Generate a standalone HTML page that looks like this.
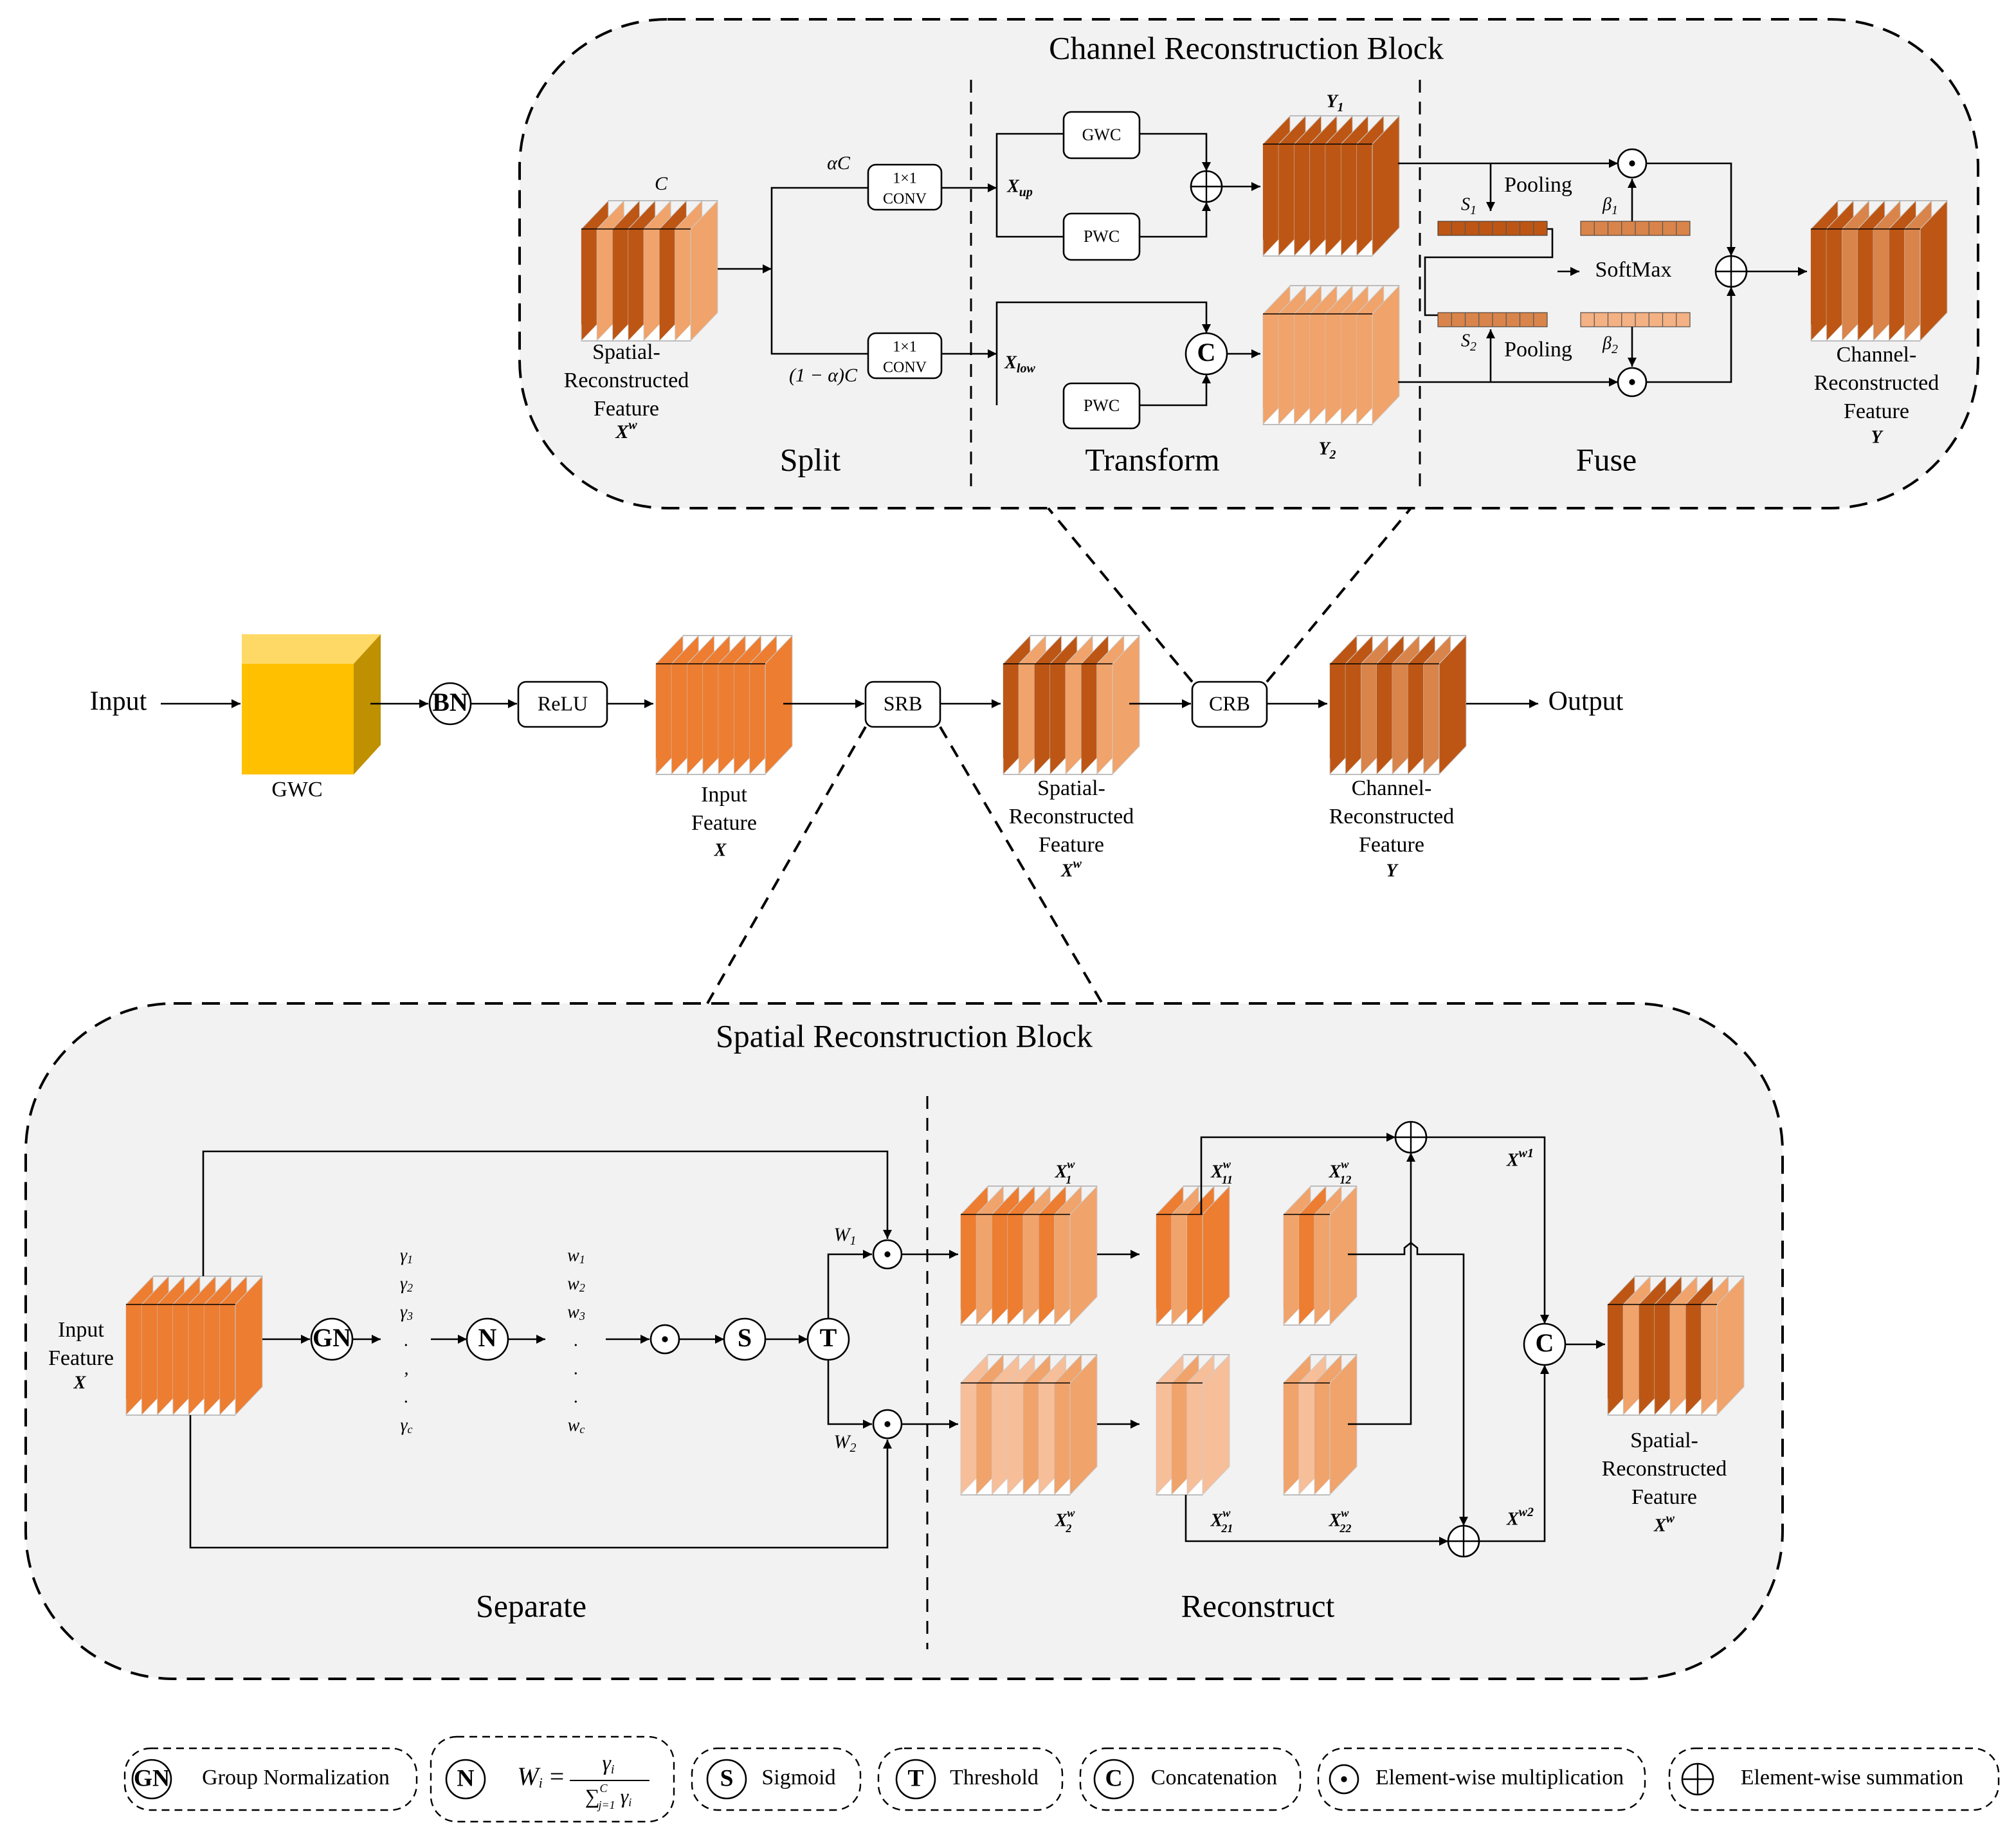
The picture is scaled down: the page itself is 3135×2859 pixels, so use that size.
<!DOCTYPE html>
<html><head><meta charset="utf-8"><style>
html,body{margin:0;padding:0;background:#fff}
svg{display:block}
text{font-family:"Liberation Serif",serif;fill:#000}
</style></head><body>
<svg id="s" width="3135" height="2859" viewBox="0 0 1567.5 1429.5" xmlns="http://www.w3.org/2000/svg">
<defs>
<marker id="a" viewBox="0 0 10 10" refX="10" refY="5" markerWidth="7" markerHeight="7" markerUnits="userSpaceOnUse" orient="auto"><path d="M0,0L10,5L0,10z" fill="#000"/></marker>
</defs>
<g fill="#f2f2f2" stroke="#000" stroke-width="2" stroke-dasharray="14,8">
<rect x="404" y="15" width="1134" height="380" rx="115"/>
<rect x="20" y="780" width="1366" height="525" rx="115"/>
</g>
<g stroke="#000" stroke-width="1.5" stroke-dasharray="10,7" fill="none">
<line x1="755" y1="62" x2="755" y2="382"/><line x1="1104" y1="62" x2="1104" y2="382"/>
<line x1="721" y1="852" x2="721" y2="1282"/>
<line x1="927" y1="530" x2="815" y2="395" stroke-width="2"/><line x1="985" y1="530" x2="1097" y2="395" stroke-width="2"/>
<line x1="673" y1="565" x2="550" y2="780" stroke-width="2"/><line x1="731" y1="565" x2="857" y2="780" stroke-width="2"/>
</g>
<g id="stacks"></g>
<g id="lines" stroke="#000" stroke-width="1.3" fill="none"></g>
<g id="shapes"></g>
<g id="texts" font-size="18"></g>
</svg>
<script>
const NS="http://www.w3.org/2000/svg";
function el(p,t,a,txt){const e=document.createElementNS(NS,t);for(const k in a)e.setAttribute(k,a[k]);if(txt!==undefined)e.innerHTML=txt;document.getElementById(p).appendChild(e);return e;}
const D="#BD5614",L="#F0A36B",O="#ED7D31",P="#F7BE9A",M="#D9844A";
function stack(x,y,h,cols,dx,dy,sw){
 dx=dx||21;dy=dy||22;const n=cols.length;sw=sw||(85/(n-1));
 for(let i=0;i<n;i++){const xi=x+i*sw;
  el("stacks","polygon",{points:`${xi},${y+h} ${xi},${y} ${xi+dx},${y-dy} ${xi+dx},${y+h-dy}`,fill:cols[i],stroke:"#ccc","stroke-width":0.5});
  // white triangle
  el("stacks","polygon",{points:`${xi},${y+h} ${xi+Math.min(sw,dx)},${y+h} ${xi+Math.min(sw,dx)},${y+h-dy*Math.min(sw,dx)/dx}`,fill:"#fff",opacity:i<n-1?1:0});
  if(i<n-1)el("stacks","rect",{x:xi,y:y,width:sw,height:h-dy*sw/dx,fill:cols[i]});
 }
 const xl=x+(n-1)*sw;
 el("stacks","line",{x1:x,y1:y,x2:xl,y2:y,stroke:"#000","stroke-width":0.8});
 el("stacks","line",{x1:x+dx,y1:y-dy,x2:xl+dx,y2:y-dy,stroke:"#aaa","stroke-width":0.8});
 el("stacks","line",{x1:x,y1:y+h,x2:xl,y2:y+h,stroke:"#aaa","stroke-width":0.8});
}
function ln(pts,arrow){el("lines","polyline",Object.assign({points:pts},arrow?{"marker-end":"url(#a)"}:{}));}
function box(x,y,w,h,t,fs,t2){el("shapes","rect",{x:x,y:y,width:w,height:h,rx:6,fill:"#fff",stroke:"#000","stroke-width":1.3});
 if(t2){tx(x+w/2,y+h/2-6,t,fs);tx(x+w/2,y+h/2+10,t2,fs);}else tx(x+w/2,y+h/2+1,t,fs);}
function tx(x,y,t,fs,extra){const a={x:x,y:y,"text-anchor":"middle","dominant-baseline":"middle","font-size":fs||18};Object.assign(a,extra||{});return el("texts","text",a,t);}
function circ(x,y,r,kind){el("shapes","circle",{cx:x,cy:y,r:r,fill:"#fff",stroke:"#000","stroke-width":1.3});
 if(kind=="+"){el("shapes","line",{x1:x-r,y1:y,x2:x+r,y2:y,stroke:"#000","stroke-width":1.2});el("shapes","line",{x1:x,y1:y-r,x2:x,y2:y+r,stroke:"#000","stroke-width":1.2});}
 else if(kind=="."){el("shapes","circle",{cx:x,cy:y,r:2.3,fill:"#000"});}
 else tx(x,y+1,kind,r*1.25,{"font-weight":"bold"});}
function it(x,y,t,fs,b){return tx(x,y,t,fs||15,{"font-style":"italic","font-weight":b?"bold":"normal"});}

// ===== CRB =====
tx(969,40,"Channel Reconstruction Block",25);
tx(630,360,"Split",25);tx(896,360,"Transform",25);tx(1249,360,"Fuse",25);
stack(452,178,87,[D,L,D,D,L,D,L,L]);
it(514,144,"C",15);
tx(487,275,"Spatial-",17);tx(487,297,"Reconstructed",17);tx(487,319,"Feature",17);
it(487,337,"X<tspan font-size='10' dy='-6'>w</tspan>",15,1);
ln("558,209 600,209",1);ln("675,146 600,146 600,275 675,275");
box(675,128,57,35,"1×1",12,"CONV");box(675,259,57,35,"1×1",12,"CONV");
it(652,128,"αC",15);it(640,293,"(1 − α)C",15);
ln("732,146 775,146",1);ln("732,275 775,275",1);
it(793,146,"X<tspan font-size='10' dy='4'>up</tspan>",14,1);
it(793,283,"X<tspan font-size='10' dy='4'>low</tspan>",14,1);
ln("827,104 775,104 775,184 827,184");
ln("886,104 938,104 938,133",1);ln("886,184 938,184 938,157",1);
box(827,87,59,36,"GWC",13);box(827,166,59,36,"PWC",13);
circ(938,145,12,"+");ln("950,145 980,145",1);
stack(982,112,87,[D,D,D,D,D,D,D,D]);
it(1038,80,"Y<tspan font-size='10' dy='4'>1</tspan>",14,1);
ln("775,315 775,235 938,235 938,259",1);
ln("886,315 938,315 938,291",1);
box(827,298,59,35,"PWC",13);circ(938,275,16,"C");
ln("954,275 980,275",1);
stack(982,244,86,[L,L,L,L,L,L,L,L]);
it(1032,350,"Y<tspan font-size='10' dy='4'>2</tspan>",14,1);
// fuse
ln("1087,127 1258,127",1);ln("1087,297 1258,297",1);
ln("1159,127 1159,164",1);ln("1159,297 1159,256",1);
tx(1196,145,"Pooling",17);tx(1196,273,"Pooling",17);
for(const [bx,by,c] of [[1118,172,D],[1229,172,M],[1118,243,M],[1229,243,"#F4B183"]]){
 el("shapes","rect",{x:bx,y:by,width:85,height:11,fill:c,stroke:"#333","stroke-width":0.5});
 for(let k=1;k<8;k++)el("shapes","line",{x1:bx+k*85/8,y1:by,x2:bx+k*85/8,y2:by+11,stroke:"#555","stroke-width":0.6});}
it(1142,160,"S<tspan font-size='10' dy='4'>1</tspan>",14);it(1252,160,"β<tspan font-size='10' dy='4'>1</tspan>",14);
it(1142,266,"S<tspan font-size='10' dy='4'>2</tspan>",14);it(1252,268,"β<tspan font-size='10' dy='4'>2</tspan>",14);
ln("1203,178 1207,178 1207,200 1108,200 1108,245 1118,245");
ln("1211,211 1228,211",1);tx(1270,211,"SoftMax",17);
ln("1269,172 1269,139",1);ln("1269,254 1269,285",1);
circ(1269,127,11,".");circ(1269,297,11,".");
ln("1280,127 1346,127 1346,199",1);ln("1280,297 1346,297 1346,223",1);
circ(1346,211,12,"+");ln("1358,211 1405,211",1);
stack(1408,178,87,[D,D,M,D,M,D,M,D]);
tx(1459,277,"Channel-",17);tx(1459,299,"Reconstructed",17);tx(1459,321,"Feature",17);it(1459,341,"Y",14,1);

// ===== main row =====
tx(92,547,"Input",21);ln("125,547 187,547",1);
el("stacks","polygon",{points:"188,493 209,493 296,493 275,516 188,516",fill:"#FFD966"});
el("stacks","polygon",{points:"188,516 209,493 296,493 275,516",fill:"#FFD966"});
el("stacks","polygon",{points:"275,516 296,493 296,579 275,602",fill:"#BF9000"});
el("stacks","rect",{x:188,y:516,width:87,height:86,fill:"#FFC000"});
tx(231,615,"GWC",17);
ln("288,547 333,547",1);circ(350,547,16,"BN");ln("366,547 402,547",1);
box(403,530,69,35,"ReLU",16);ln("472,547 508,547",1);
stack(510,516,86,[O,O,O,O,O,O,O,O]);
tx(563,619,"Input",17);tx(563,641,"Feature",17);it(560,662,"X",14,1);
ln("609,547 672,547",1);box(673,530,58,35,"SRB",16);ln("731,547 778,547",1);
stack(780,516,86,[D,L,D,D,L,D,L,L]);
tx(833,614,"Spatial-",17);tx(833,636,"Reconstructed",17);tx(833,658,"Feature",17);
it(833,678,"X<tspan font-size='10' dy='-6'>w</tspan>",14,1);
ln("878,547 926,547",1);box(927,530,58,35,"CRB",16);ln("985,547 1032,547",1);
stack(1034,516,86,[D,D,M,D,M,D,M,D]);
tx(1082,614,"Channel-",17);tx(1082,636,"Reconstructed",17);tx(1082,658,"Feature",17);it(1082,678,"Y",14,1);
ln("1140,547 1196,547",1);tx(1233,547,"Output",21);

// ===== SRB =====
tx(703,808,"Spatial Reconstruction Block",25);
tx(413,1251,"Separate",25);tx(978,1251,"Reconstruct",25);
stack(98,1014,86,[O,O,O,O,O,O,O,O]);
tx(63,1035,"Input",17);tx(63,1057,"Feature",17);it(62,1076,"X",14,1);
ln("158,992 158,895 690,895 690,963",1);
ln("148,1100 148,1203 690,1203 690,1119",1);
ln("204,1041 241,1041",1);circ(258,1041,16,"GN");ln("274,1041 296,1041",1);
const g=["γ<tspan font-size='9' dy='3'>1</tspan>","γ<tspan font-size='9' dy='3'>2</tspan>","γ<tspan font-size='9' dy='3'>3</tspan>",".",",",".","γ<tspan font-size='9' dy='3'>c</tspan>"];
const w=["w<tspan font-size='9' dy='3'>1</tspan>","w<tspan font-size='9' dy='3'>2</tspan>","w<tspan font-size='9' dy='3'>3</tspan>",".",".",".","w<tspan font-size='9' dy='3'>c</tspan>"];
for(let i=0;i<7;i++){it(316,977+i*22,g[i],14);it(448,977+i*22,w[i],14);}
ln("335,1041 363,1041",1);circ(379,1041,16,"N");ln("395,1041 424,1041",1);
ln("471,1041 505,1041",1);circ(517,1041,11,".");ln("528,1041 563,1041",1);
circ(579,1041,16,"S");ln("595,1041 628,1041",1);circ(644,1041,16,"T");
ln("644,1025 644,975 678,975",1);ln("644,1057 644,1107 678,1107",1);
it(657,961,"W<tspan font-size='10' dy='4'>1</tspan>",15);it(657,1122,"W<tspan font-size='10' dy='4'>2</tspan>",15);
circ(690,975,11,".");circ(690,1107,11,".");
ln("701,975 745,975",1);ln("701,1107 745,1107",1);
stack(747,944,86,[O,L,O,O,L,O,L,L]);
stack(747,1075,87,[P,L,P,P,L,P,L,L]);
it(828,912,"X<tspan font-size='9' dy='-6'>w</tspan><tspan font-size='9' dx='-7' dy='12'>1</tspan>",14,1);
it(828,1183,"X<tspan font-size='9' dy='-6'>w</tspan><tspan font-size='9' dx='-7' dy='12'>2</tspan>",14,1);
ln("853,975 886,975",1);ln("853,1107 886,1107",1);
stack(899,944,86,[O,L,O,O],21,22,12);
stack(899,1075,87,[P,L,P,P],21,22,12);
stack(998,944,86,[L,O,L,L],21,22,12);
stack(998,1075,87,[L,P,L,L],21,22,12);
it(950,912,"X<tspan font-size='9' dy='-6'>w</tspan><tspan font-size='9' dx='-7' dy='12'>11</tspan>",14,1);
it(1042,912,"X<tspan font-size='9' dy='-6'>w</tspan><tspan font-size='9' dx='-7' dy='12'>12</tspan>",14,1);
it(950,1183,"X<tspan font-size='9' dy='-6'>w</tspan><tspan font-size='9' dx='-7' dy='12'>21</tspan>",14,1);
it(1042,1183,"X<tspan font-size='9' dy='-6'>w</tspan><tspan font-size='9' dx='-7' dy='12'>22</tspan>",14,1);
ln("934,944 934,884 1085,884",1);
ln("1109,884 1201,884 1201,1029",1);
ln("1048,975 1092,975 1092,970 1097,966 1102,970 1102,975 1138,975 1138,1186",1);
ln("1048,1107 1097,1107 1097,896",1);
ln("922,1162 922,1198 1126,1198",1);
ln("1150,1198 1201,1198 1201,1061",1);
circ(1097,884,12,"+");circ(1138,1198,12,"+");circ(1201,1045,16,"C");
it(1182,903,"X<tspan font-size='10' dy='-6'>w1</tspan>",14,1);
it(1182,1182,"X<tspan font-size='10' dy='-6'>w2</tspan>",14,1);
ln("1217,1045 1248,1045",1);
stack(1250,1014,86,[D,L,D,D,L,D,L,L]);
tx(1294,1121,"Spatial-",17);tx(1294,1143,"Reconstructed",17);tx(1294,1165,"Feature",17);
it(1294,1187,"X<tspan font-size='10' dy='-6'>w</tspan>",14,1);

// ===== legend =====
for(const [x1,x2,y1,y2] of [[97,324,1359,1407],[335,524,1350,1416],[538,669,1359,1407],[683,826,1359,1407],[840,1011,1359,1407],[1025,1279,1359,1407],[1298,1554,1359,1407]])
 el("shapes","rect",{x:x1,y:y1,width:x2-x1,height:y2-y1,rx:20,fill:"none",stroke:"#000","stroke-width":1.2,"stroke-dasharray":"6,4"});
circ(118,1383,15,"GN");tx(230,1383,"Group Normalization",17);
circ(362,1383,15,"N");
it(412,1383,"W<tspan font-size='11' dy='4'>i</tspan>",20);tx(433,1383,"=",20);
it(473,1372,"γ<tspan font-size='10' dy='4'>i</tspan>",17);
el("shapes","line",{x1:443,y1:1384,x2:505,y2:1384,stroke:"#000","stroke-width":1});
it(473,1398,"∑<tspan font-size='9' dy='-7'>C</tspan><tspan font-size='9' dx='-7' dy='13'>j=1</tspan><tspan dy='-6'> γ</tspan><tspan font-size='9' dy='4'>i</tspan>",16);
circ(565,1383,15,"S");tx(621,1383,"Sigmoid",17);
circ(712,1383,15,"T");tx(773,1383,"Threshold",17);
circ(866,1383,15,"C");tx(944,1383,"Concatenation",17);
circ(1045,1383,11,".");tx(1166,1383,"Element-wise multiplication",17);
circ(1320,1383,12,"+");tx(1440,1383,"Element-wise summation",17);
</script>
</body></html>
